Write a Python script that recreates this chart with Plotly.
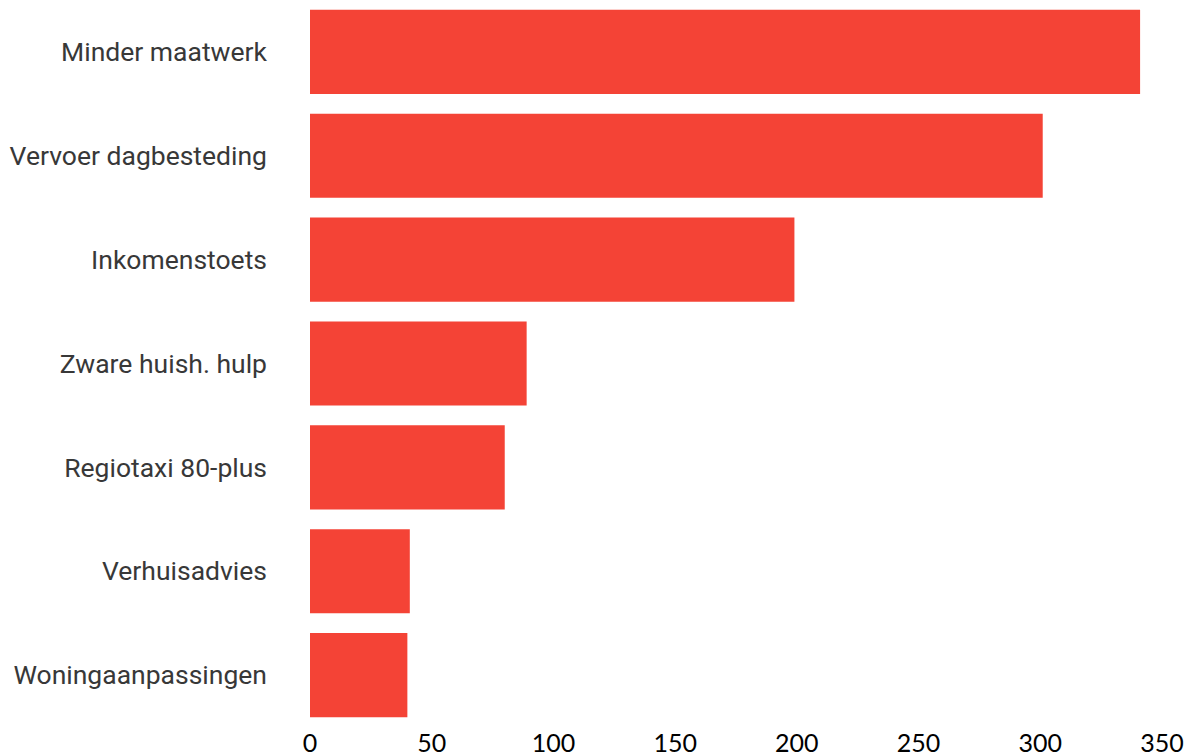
import plotly.graph_objects as go

categories = ["Minder maatwerk", "Vervoer dagbesteding", "Inkomenstoets",
              "Zware huish. hulp", "Regiotaxi 80-plus", "Verhuisadvies",
              "Woningaanpassingen"]
values = [341, 301, 199, 89, 80, 41, 40]
x_ticks = [0, 50, 100, 150, 200, 250, 300, 350]

fig = go.Figure(go.Bar(
    y=categories, x=values, orientation="h",
    marker=dict(color="#F44336", line=dict(width=0)),
))

fig.update_layout(
    width=1195, height=756,
    margin=dict(l=310, r=33, t=0, b=29),
    plot_bgcolor="white", paper_bgcolor="white",
    bargap=0.19, showlegend=False,
)
fig.update_yaxes(
    autorange="reversed", showgrid=False, showline=False, zeroline=False,
    ticks="", ticklabelstandoff=42, automargin=False,
    tickfont=dict(family="Roboto", size=26.5, color="#383838"),
)
fig.update_xaxes(
    range=[0, 350], tickvals=x_ticks, showgrid=False, showline=False,
    zeroline=False, ticks="", automargin=False, ticklabelstandoff=-1,
    tickfont=dict(family="Lato", size=25, color="#000000"),
)
fig.write_html(
    "out.html",
    config={"displayModeBar": False},
    post_script="document.body.style.margin='0';document.body.style.overflow='hidden';",
)
